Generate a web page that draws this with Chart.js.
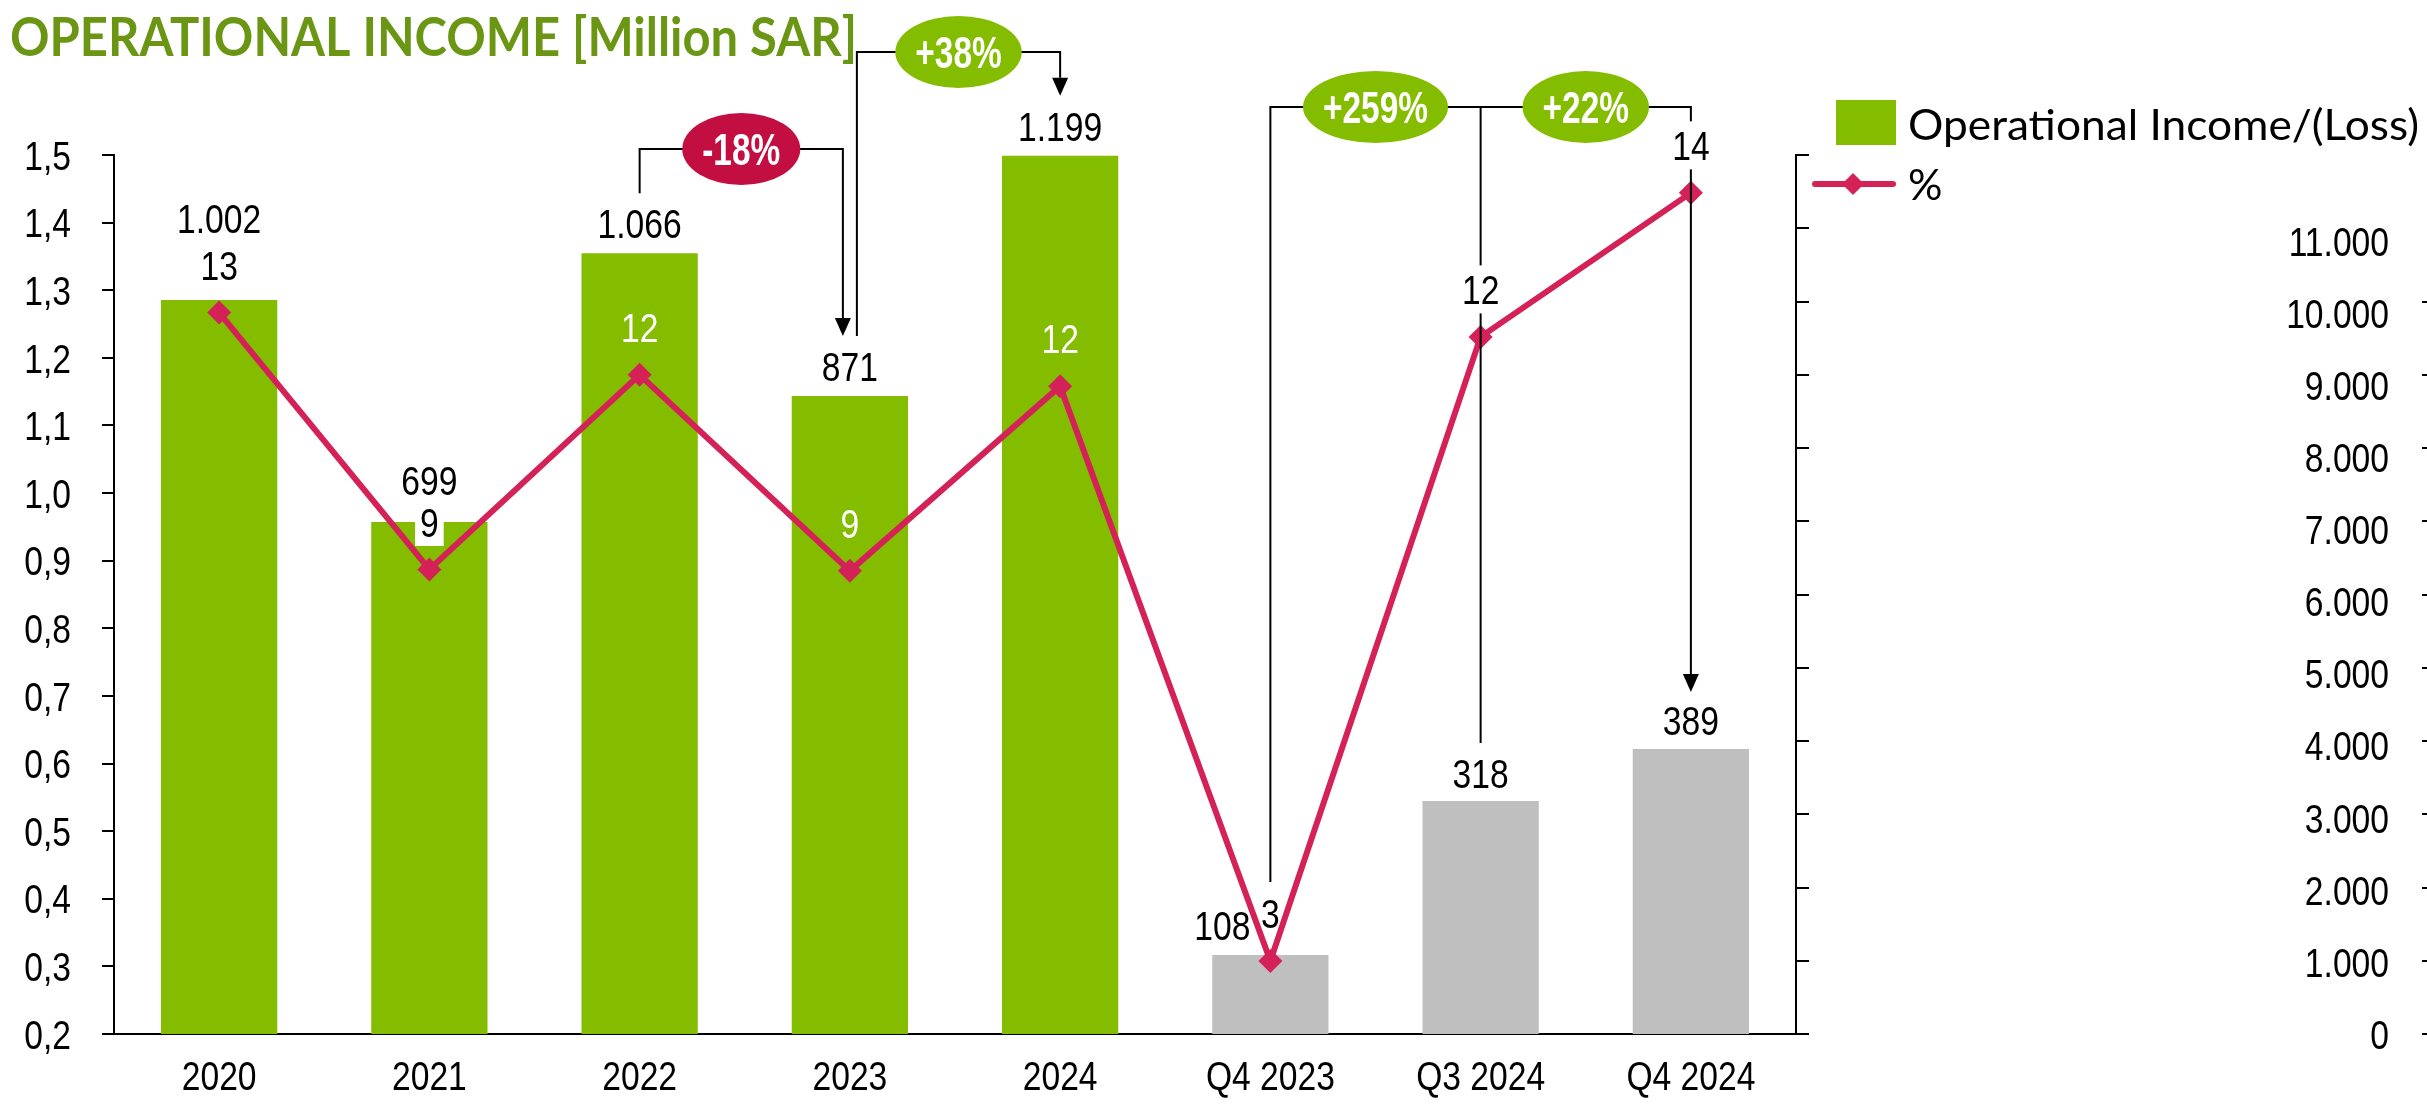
<!DOCTYPE html>
<html>
<head>
<meta charset="utf-8">
<title>Operational Income</title>
<script src="https://cdn.jsdelivr.net/npm/chart.js@4.4.1/dist/chart.umd.min.js"></script>
<style>
  html, body { margin: 0; padding: 0; background: #fff; }
  #wrap { position: relative; width: 2427px; height: 1105px; }
</style>
</head>
<body>
<div id="wrap"><canvas id="incomeChart"></canvas></div>
<script>
// ----- data -----
const categories = ['2020', '2021', '2022', '2023', '2024', 'Q4 2023', 'Q3 2024', 'Q4 2024'];
const incomeValues = [1002, 699, 1066, 871, 1199, 108, 318, 389];          // million SAR
const marginValues = [12.67, 8.87, 11.75, 8.85, 11.58, 3.08, 12.31, 14.44]; // %
const leftTickLabels = ['0,2', '0,3', '0,4', '0,5', '0,6', '0,7', '0,8', '0,9', '1,0', '1,1', '1,2', '1,3', '1,4', '1,5'];
const outerTickLabels = ['0', '1.000', '2.000', '3.000', '4.000', '5.000', '6.000', '7.000', '8.000', '9.000', '10.000', '11.000'];
const changeLabels = ['-18%', '+38%', '+259%', '+22%'];

// ----- styles -----
const GREEN = '#84BC00';
const GREY = '#BFBFBF';
const CRIMSON = '#D42259';
const BADGE_RED = '#C20E40';
const TITLE_GREEN = '#6A9614';
const ARIAL = "'Liberation Sans', Arial, sans-serif";
const NARROW = 0.82;   // arial narrow look
const LABEL_SIZE = 41;

const barColors = categories.map((c, i) => i < 5 ? GREEN : GREY);
// label placement (pixels above the mark)
const barLabelLift = [82, 42, 30, 30, 29, 30, 28, 29];
const barLabelShift = [0, 0, 0, 0, 0, -48, 0, 0];
const pctLabelColor = ['#000', '#000', '#fff', '#fff', '#fff', '#000', '#000', '#000'];
const pctLabelBox = [false, true, false, false, false, false, true, true];

function formatIncome(v) {
    if (v >= 1000) return Math.floor(v / 1000) + '.' + String(v % 1000).padStart(3, '0');
    return String(v);
}

// condensed text, y = vertical centre of the digits
function narrowText(ctx, text, x, y, align, weight, size, squeeze) {
    size = size || LABEL_SIZE;
    ctx.save();
    ctx.font = `${weight || 'normal'} ${size}px ${ARIAL}`;
    ctx.textAlign = align;
    ctx.textBaseline = 'alphabetic';
    ctx.translate(x, y + size * 0.358);
    ctx.scale(squeeze || NARROW, 1);
    ctx.fillText(text, 0, 0);
    ctx.restore();
}

function narrowWidth(ctx, text, weight, size, squeeze) {
    ctx.save();
    ctx.font = `${weight || 'normal'} ${size || LABEL_SIZE}px ${ARIAL}`;
    const w = ctx.measureText(text).width * (squeeze || NARROW);
    ctx.restore();
    return w;
}

// down arrow head with tip at (x, y)
function arrowHead(ctx, x, y) {
    ctx.beginPath();
    ctx.moveTo(x, y);
    ctx.lineTo(x - 8, y - 18);
    ctx.lineTo(x + 8, y - 18);
    ctx.closePath();
    ctx.fill();
}

function badge(ctx, text, cx, cy, color) {
    const w = narrowWidth(ctx, text, 'bold', 44, 0.76);
    ctx.fillStyle = color;
    ctx.beginPath();
    ctx.ellipse(cx, cy, w / 2 + 20, 36, 0, 0, Math.PI * 2);
    ctx.fill();
    ctx.fillStyle = '#fff';
    narrowText(ctx, text, cx, cy, 'center', 'bold', 44, 0.76);
}

function polyline(ctx, pts) {
    ctx.beginPath();
    ctx.moveTo(pts[0][0], pts[0][1]);
    for (let k = 1; k < pts.length; k++) ctx.lineTo(pts[k][0], pts[k][1]);
    ctx.stroke();
}

// ----- annotations, labels, title, legend -----
const decorPlugin = {
    id: 'decor',
    afterDatasetsDraw(chart) {
        const ctx = chart.ctx;
        const top = chart.chartArea.top;
        const xs = chart.scales.x;
        const barMeta = chart.getDatasetMeta(0);
        const lineMeta = chart.getDatasetMeta(1);
        const cx = i => xs.getPixelForValue(i);
        const barTop = i => barMeta.data[i].y;

        ctx.save();
        ctx.strokeStyle = '#000';
        ctx.fillStyle = '#000';
        ctx.lineWidth = 2;

        // 2022 -> 2023
        const yA = top - 6;
        polyline(ctx, [[cx(2), barTop(2) - 60], [cx(2), yA], [cx(3) - 7, yA], [cx(3) - 7, barTop(3) - 78]]);
        arrowHead(ctx, cx(3) - 7, barTop(3) - 60);
        // 2023 -> 2024
        const yB = top - 103;
        polyline(ctx, [[cx(3) + 7, barTop(3) - 60], [cx(3) + 7, yB], [cx(4), yB], [cx(4), barTop(4) - 78]]);
        arrowHead(ctx, cx(4), barTop(4) - 60);
        // Q4 2023 / Q3 2024 -> Q4 2024
        const yC = top - 48;
        polyline(ctx, [[cx(5), barTop(5) - 73], [cx(5), yC], [cx(7), yC], [cx(7), barTop(7) - 75]]);
        polyline(ctx, [[cx(6), yC], [cx(6), barTop(6) - 58]]);
        arrowHead(ctx, cx(7), barTop(7) - 57);

        badge(ctx, changeLabels[0], (cx(2) + cx(3) - 7) / 2, yA, BADGE_RED);
        badge(ctx, changeLabels[1], (cx(3) + 7 + cx(4)) / 2, yB, GREEN);
        badge(ctx, changeLabels[2], (cx(5) + cx(6)) / 2, yC, GREEN);
        badge(ctx, changeLabels[3], (cx(6) + cx(7)) / 2, yC, GREEN);

        // bar value labels
        barMeta.data.forEach((bar, i) => {
            ctx.fillStyle = '#000';
            narrowText(ctx, formatIncome(incomeValues[i]), bar.x + barLabelShift[i], bar.y - barLabelLift[i], 'center');
        });

        // % labels
        lineMeta.data.forEach((pt, i) => {
            const text = String(Math.round(marginValues[i]));
            const cy = pt.y - 47.5;
            if (pctLabelBox[i]) {
                const w = narrowWidth(ctx, text);
                ctx.fillStyle = '#fff';
                ctx.fillRect(pt.x - w / 2 - 5, cy - 24, w + 10, 48);
            }
            ctx.fillStyle = pctLabelColor[i];
            narrowText(ctx, text, pt.x, cy, 'center');
        });
        ctx.restore();
    },
    afterDraw(chart) {
        const ctx = chart.ctx;
        const {x, y, yOuter} = chart.scales;

        // axis tick labels
        ctx.save();
        ctx.fillStyle = '#000';
        categories.forEach((c, i) => narrowText(ctx, c, x.getPixelForValue(i), 1075, 'center'));
        leftTickLabels.forEach((t, i) => narrowText(ctx, t, y.left + y.width - 43, y.getPixelForValue(y.min + i), 'right'));
        outerTickLabels.forEach((t, i) => narrowText(ctx, t, yOuter.left, yOuter.getPixelForValue(i * 1000), 'right'));
        ctx.restore();

        // title
        ctx.save();
        const title = 'OPERATIONAL INCOME [Million SAR]';
        ctx.font = "bold 54px Lato, 'Open Sans', sans-serif";
        const tw = ctx.measureText(title).width;
        ctx.translate(10, 56);
        ctx.scale(847 / tw, 1);
        ctx.fillStyle = TITLE_GREEN;
        ctx.textAlign = 'left';
        ctx.textBaseline = 'alphabetic';
        ctx.fillText(title, 0, 0);
        ctx.restore();

        // legend
        ctx.save();
        ctx.fillStyle = GREEN;
        ctx.fillRect(1836, 100, 60, 45);
        ctx.strokeStyle = CRIMSON;
        ctx.lineWidth = 6;
        ctx.lineCap = 'round';
        ctx.beginPath();
        ctx.moveTo(1815, 184);
        ctx.lineTo(1893, 184);
        ctx.stroke();
        ctx.fillStyle = CRIMSON;
        ctx.beginPath();
        ctx.moveTo(1853, 173); ctx.lineTo(1864, 184); ctx.lineTo(1853, 195); ctx.lineTo(1842, 184);
        ctx.closePath();
        ctx.fill();

        const legendText = chart.data.datasets[0].label;
        ctx.font = "43px Lato, 'Open Sans', sans-serif";
        const lw = ctx.measureText(legendText).width;
        ctx.fillStyle = '#000';
        ctx.textBaseline = 'alphabetic';
        ctx.save();
        ctx.translate(1908, 140);
        ctx.scale(511 / lw, 1);
        ctx.fillText(legendText, 0, 0);
        ctx.restore();
        ctx.fillText(chart.data.datasets[1].label, 1908, 200);
        ctx.restore();
    }
};

const ctx = document.getElementById('incomeChart').getContext('2d');
new Chart(ctx, {
    type: 'bar',
    data: {
        labels: categories,
        datasets: [{
            type: 'bar',
            label: 'Operational Income/(Loss)',
            data: incomeValues,
            backgroundColor: barColors,
            yAxisID: 'yBar',
            barPercentage: 0.553,
            categoryPercentage: 1,
            order: 2
        }, {
            type: 'line',
            label: '%',
            data: marginValues,
            yAxisID: 'yPct',
            borderColor: CRIMSON,
            backgroundColor: CRIMSON,
            borderWidth: 6,
            pointStyle: 'rectRot',
            pointRadius: 12,
            pointBorderWidth: 0,
            pointBackgroundColor: CRIMSON,
            tension: 0,
            order: 1
        }]
    },
    options: {
        responsive: true,
        maintainAspectRatio: false,
        animation: false,
        devicePixelRatio: 1,
        layout: { padding: { top: 155, left: 0, right: 0, bottom: 0 } },
        plugins: {
            legend: { display: false },
            tooltip: { enabled: false },
            title: { display: false }
        },
        scales: {
            x: {
                grid: { display: false, drawTicks: false },
                border: { display: true, color: '#000', width: 2 },
                ticks: { display: false },
                afterFit: (s) => { s.height = 71; }
            },
            y: {
                position: 'left',
                min: 2,
                max: 15,
                ticks: { stepSize: 1, display: false },
                grid: { drawOnChartArea: false, drawTicks: true, tickLength: 12, color: '#000', lineWidth: 2 },
                border: { display: true, color: '#000', width: 2 },
                afterFit: (s) => { s.width = 114; }
            },
            yBar: { display: false, min: 0, max: 1200 },
            yPct: { display: false, min: 2, max: 15 },
            yR: {
                position: 'right',
                weight: 0,
                min: 0,
                max: 12,
                ticks: { stepSize: 1, display: false },
                grid: { drawOnChartArea: false, drawTicks: true, tickLength: 13, color: '#000', lineWidth: 2 },
                border: { display: true, color: '#000', width: 2 },
                afterFit: (s) => { s.width = 593; }
            },
            yOuter: {
                position: 'right',
                weight: 1,
                min: 0,
                max: 12200,
                ticks: { stepSize: 1000, display: false },
                grid: {
                    drawOnChartArea: false,
                    drawTicks: true,
                    tickLength: 60,
                    tickBorderDash: [0, 33, 60, 0],
                    color: (c) => (c.tick && c.tick.value <= 11000) ? '#000' : 'rgba(0,0,0,0)',
                    lineWidth: 2
                },
                border: { display: false },
                afterFit: (s) => { s.width = 38; }
            }
        }
    },
    plugins: [decorPlugin]
});
</script>
</body>
</html>
